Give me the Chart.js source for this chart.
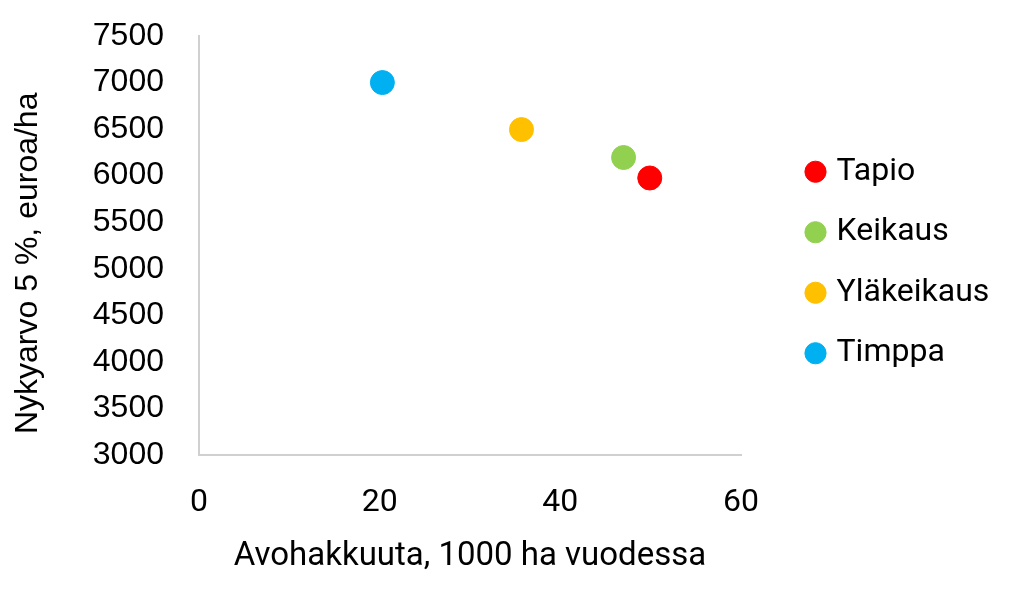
<!DOCTYPE html>
<html>
<head>
<meta charset="utf-8">
<script src="https://cdn.jsdelivr.net/npm/chart.js@4.4.1/dist/chart.umd.min.js"></script>
<style>
  html, body { margin: 0; padding: 0; background: #ffffff; }
  #wrap { width: 1024px; height: 613px; }
</style>
</head>
<body>
<div id="wrap"><canvas id="c" width="1024" height="613"></canvas></div>
<script>
// ---- data ----
const seriesNames = ['Tapio', 'Keikaus', 'Yläkeikaus', 'Timppa'];
const xValues = [49.9, 47.0, 35.7, 20.3];      // Avohakkuuta, 1000 ha vuodessa
const yValues = [5975, 6195, 6495, 7000];      // Nykyarvo 5 %, euroa/ha
const seriesColors = ['#FF0000', '#92D050', '#FFC000', '#00B0F0'];
const xTicks = [0, 20, 40, 60];
const yTicks = [3000, 3500, 4000, 4500, 5000, 5500, 6000, 6500, 7000, 7500];
const xTitle = 'Avohakkuuta, 1000 ha vuodessa';
const yTitle = 'Nykyarvo 5 %, euroa/ha';

const datasets = seriesNames.map((name, i) => ({
  label: name,
  data: [{ x: xValues[i], y: yValues[i] }],
  backgroundColor: seriesColors[i],
  borderColor: seriesColors[i],
  borderWidth: 1,
  pointRadius: 12,
  pointHoverRadius: 12,
  pointStyle: 'circle'
}));

// keep the legend to the right of the plot, with fixed width and offset
const legendPlacer = {
  id: 'legendPlacer',
  beforeLayout(chart) {
    const lg = chart.legend;
    if (lg && !lg._fixedFit) {
      const orig = lg.fit.bind(lg);
      lg.fit = function () { orig(); this.width = 283; };
      lg._fixedFit = true;
    }
  },
  afterLayout(chart) {
    const lg = chart.legend;
    if (lg) {
      const dx = 41, dy = 17;
      lg.left += dx; lg.right += dx;
      lg.top += dy; lg.bottom += dy;
    }
  }
};

new Chart(document.getElementById('c'), {
  type: 'scatter',
  data: { datasets },
  plugins: [legendPlacer],
  options: {
    responsive: false,
    animation: false,
    events: [],
    layout: { padding: { top: 36, right: 0, bottom: 0, left: 0 } },
    plugins: {
      tooltip: { enabled: false },
      legend: {
        display: true,
        position: 'right',
        align: 'center',
        fullSize: false,
        labels: {
          usePointStyle: true,
          pointStyle: 'circle',
          boxWidth: 10,
          boxHeight: 15,
          padding: 28.5,
          color: '#000000',
          font: { family: 'Roboto', size: 32 }
        }
      }
    },
    scales: {
      x: {
        type: 'linear',
        min: 0,
        max: 60,
        afterBuildTicks: s => { s.ticks = xTicks.map(v => ({ value: v })); },
        afterFit: s => { s.height = 158; },
        grid: { display: false, drawTicks: true, tickLength: 27 },
        border: { display: true, color: '#D0D0D0', width: 2 },
        ticks: {
          padding: 2,
          color: '#000000',
          font: { family: 'Roboto', size: 32 },
          callback: v => String(v)
        },
        title: {
          display: true,
          text: xTitle,
          color: '#000000',
          font: { family: 'Roboto', size: 33 },
          padding: { top: 0, bottom: 36 }
        }
      },
      y: {
        type: 'linear',
        min: 3000,
        max: 7500,
        afterBuildTicks: s => { s.ticks = yTicks.map(v => ({ value: v })); },
        afterFit: s => { s.width = 199; },
        grid: { display: false, drawTicks: true, tickLength: 33 },
        border: { display: true, color: '#D0D0D0', width: 2 },
        ticks: {
          padding: 2,
          color: '#000000',
          font: { family: 'Liberation Sans', size: 32 },
          callback: v => String(v)
        },
        title: {
          display: true,
          text: yTitle + '    ',
          color: '#000000',
          font: { family: 'Liberation Sans', size: 32 },
          padding: { top: 9, bottom: 0 }
        }
      }
    }
  }
});
</script>
</body>
</html>
